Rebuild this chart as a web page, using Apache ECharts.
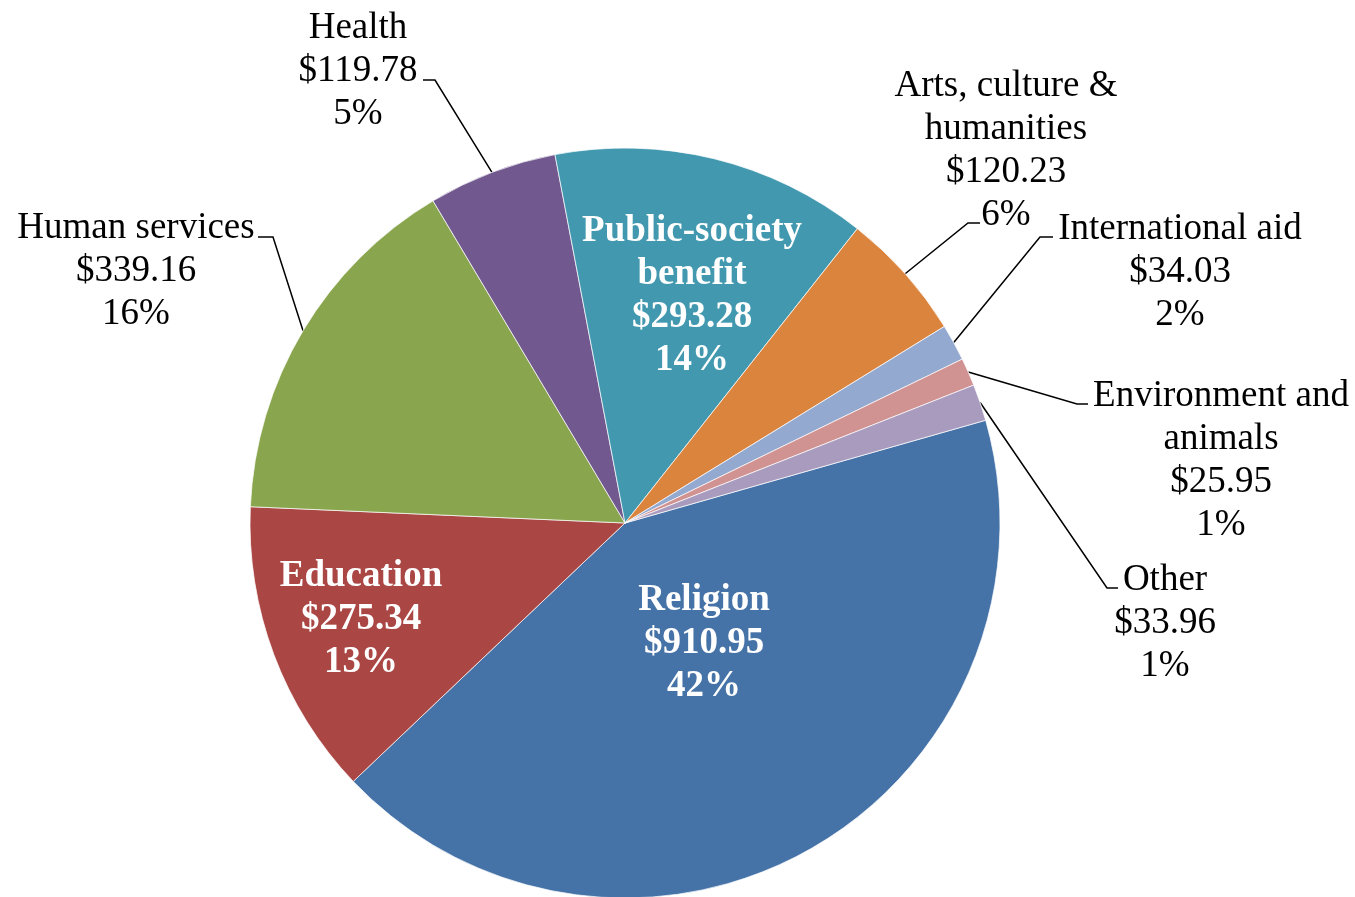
<!DOCTYPE html>
<html>
<head>
<meta charset="utf-8">
<script src="https://cdn.jsdelivr.net/npm/echarts@6/dist/echarts.min.js"></script>
<style>
  html, body { margin: 0; padding: 0; background: #fff; }
  #chart { width: 1355px; height: 897px; }
</style>
</head>
<body>
<div id="chart"></div>
<script>
let categories = ['Religion', 'Education', 'Human services', 'Health', 'Public-society\nbenefit',
    'Arts, culture &\nhumanities', 'International aid', 'Environment and\nanimals', 'Other'];
let amounts = [910.95, 275.34, 339.16, 119.78, 293.28, 120.23, 34.03, 25.95, 33.96];
let percents = ['42%', '13%', '16%', '5%', '14%', '6%', '2%', '1%', '1%'];
let colors = ['#4572A7', '#AA4643', '#89A54E', '#71588F', '#4198AF', '#DB843D', '#93A9CF', '#D19392', '#A99BBD'];
let insideLabels = [true, true, false, false, true, false, false, false, false];

// where each label sits (centre) and where its leader line meets it
let labelSpots = [
    {x: 704, y: 643},
    {x: 361, y: 619},
    {x: 136, y: 271, ax: 258, ay: 237, bx: 273},
    {x: 358, y: 71, ax: 423, ay: 80, bx: 435},
    {x: 692, y: 296},
    {x: 1006, y: 151, ax: 980, ay: 223, bx: 968},
    {x: 1180, y: 272, ax: 1053, ay: 237, bx: 1040},
    {x: 1221, y: 461, ax: 1088, ay: 404, bx: 1077},
    {x: 1165, y: 623, ax: 1118, ay: 588, bx: 1107}
];

let data = [];
for (let i = 0; i < categories.length; i++) {
    let inside = insideLabels[i];
    data.push({
        name: categories[i],
        value: amounts[i],
        itemStyle: {color: colors[i]},
        label: inside ? {
            position: 'inside',
            color: '#fff',
            fontWeight: 'bold'
        } : {
            position: 'outside',
            color: '#000',
            fontWeight: 'normal'
        },
        labelLine: {show: !inside}
    });
}

let option = {
    animation: false,
    series: [{
        type: 'pie',
        center: [625, 523],
        radius: 375,
        startAngle: 15.9,
        clockwise: true,
        avoidLabelOverlap: false,
        itemStyle: {
            borderColor: 'rgba(255,255,255,0.7)',
            borderWidth: 1
        },
        label: {
            fontFamily: 'Liberation Serif',
            fontSize: 37,
            lineHeight: 43,
            align: 'center',
            formatter: p => p.name + '\n$' + p.value.toFixed(2) + '\n' + percents[p.dataIndex]
        },
        labelLine: {
            smooth: false,
            lineStyle: {color: '#000', width: 1.5}
        },
        labelLayout: function (params) {
            let s = labelSpots[params.dataIndex];
            let out = {x: s.x, y: s.y, align: 'center', verticalAlign: 'middle'};
            if (s.ax != null && params.labelLinePoints) {
                let p0 = params.labelLinePoints[0];
                out.labelLinePoints = [[p0[0], p0[1]], [s.bx, s.ay], [s.ax, s.ay]];
            }
            return out;
        },
        data: data
    }]
};

echarts.init(document.getElementById('chart')).setOption(option);
</script>
</body>
</html>
